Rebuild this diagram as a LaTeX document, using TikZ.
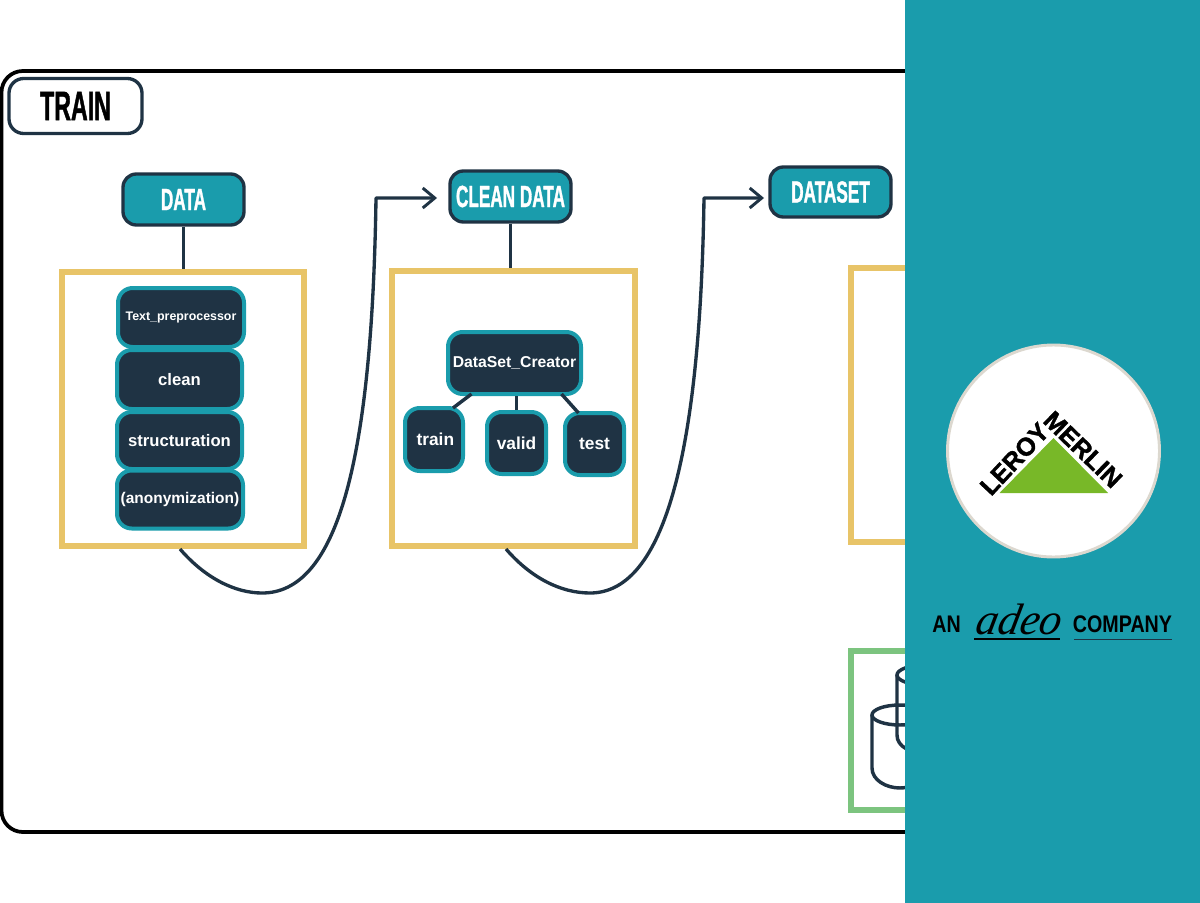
\documentclass[tikz,border=0pt]{standalone}
\usepackage{fontspec}
\setmainfont{Liberation Sans}
\newfontfamily\bebas[FakeStretch=0.56,FakeBold=1.0]{Liberation Sans}
\newfontfamily\narrowf[FakeStretch=0.82]{Liberation Sans}
\newfontfamily\heavyf[FakeBold=1.5]{Liberation Sans}
\newfontfamily\adeof[FakeSlant=0.2]{Liberation Serif}
\usetikzlibrary{arrows.meta,calc}
\definecolor{navy}{HTML}{1F3344}
\definecolor{teal}{HTML}{1A9CAC}
\definecolor{gold}{HTML}{E8C468}
\definecolor{grn}{HTML}{7CC47F}
\definecolor{leaf}{HTML}{78B828}
\definecolor{ring}{HTML}{DCD8CF}
\tikzset{
  px/.style={x=0.75pt,y=-0.75pt},
  header/.style={draw=navy,line width=2.5pt,fill=teal,rounded corners=10pt,inner sep=0pt,text=white,font=\bebas\bfseries\fontsize{23}{25}\selectfont},
  titlebox/.style={draw=navy,line width=2.5pt,fill=white,rounded corners=11pt,inner sep=0pt,text=black,font=\bebas\bfseries\fontsize{31}{33}\selectfont},
  procbox/.style={draw=gold,line width=3.8pt,fill=white,inner sep=0pt},
  storebox/.style={draw=grn,line width=3.8pt,fill=white,inner sep=0pt},
  darkbox/.style={draw=teal,line width=3pt,fill=navy,rounded corners=11pt,inner sep=0pt,text=white,font=\bfseries\fontsize{12.5}{14}\selectfont},
  link/.style={draw=navy,line width=2.6pt},
  flow/.style={draw=navy,line width=2.5pt,line join=round,-{Straight Barb[length=9pt,width=15pt,line width=2.2pt]}},
  cyl/.style={draw=navy,line width=2.6pt},
  logotext/.style={text=black,font=\heavyf\bfseries\fontsize{19}{21}\selectfont,inner sep=0pt},
}
\begin{document}
\begin{tikzpicture}[px]
\useasboundingbox (0,0) rectangle (1200,903);
\fill[white] (0,0) rectangle (1200,903);
% outer frame
\node[draw=black,line width=2.8pt,rounded corners=16pt,minimum width=1000*0.75pt,minimum height=761*0.75pt,inner sep=0pt] (frame) at (501.5,451.5) {};
% title
\node[titlebox,minimum width=133*0.75pt,minimum height=55*0.75pt] (train) at (75.5,106) {TRAIN};
% headers
\node[header,minimum width=121*0.75pt,minimum height=51*0.75pt] (data) at (183.5,199.5) {DATA};
\node[header,minimum width=121*0.75pt,minimum height=51*0.75pt] (cleandata) at (510.5,196.5) {CLEAN DATA};
\node[header,minimum width=121*0.75pt,minimum height=50*0.75pt] (dataset) at (830.5,192) {DATASET};
% yellow boxes
\node[procbox,minimum width=242*0.75pt,minimum height=274*0.75pt] (procA) at (183,409) {};
\node[procbox,minimum width=243*0.75pt,minimum height=275*0.75pt] (procB) at (513.5,408.5) {};
\node[procbox,minimum width=200*0.75pt,minimum height=274*0.75pt] (procC) at (951,405) {};
% green box and cylinders
\node[storebox,minimum width=200*0.75pt,minimum height=159*0.75pt] (store) at (951,730.5) {};
\draw[cyl] (925,675) ellipse (28 and 10);
\draw[cyl] (897,675) -- (897,735) .. controls (897,747) and (911,753) .. (925,753);
\draw[cyl] (900,715) ellipse (28 and 10);
\draw[cyl] (872,715) -- (872,768) .. controls (872,780) and (886,788) .. (900,788) .. controls (914,788) and (928,780) .. (928,768) -- (928,715);
% stack
\node[darkbox,minimum width=126*0.75pt,minimum height=59*0.75pt,font=\bfseries\fontsize{9.3}{11}\selectfont] (tp) at (181,317.5) {Text\_preprocessor};
\node[darkbox,minimum width=125*0.75pt,minimum height=59*0.75pt] (cl) at (179.5,379.5) {clean};
\node[darkbox,minimum width=125*0.75pt,minimum height=57*0.75pt] (st) at (179.5,440.5) {structuration};
\node[darkbox,minimum width=126*0.75pt,minimum height=58*0.75pt,font=\bfseries\fontsize{11.6}{14}\selectfont] (an) at (180,499.5) {\raisebox{-1.5pt}{(anonymization)}};
% dataset creator
\node[darkbox,minimum width=133*0.75pt,minimum height=62*0.75pt,font=\bfseries\fontsize{11.8}{14}\selectfont] (dc) at (514.5,363) {DataSet\_Creator};
\node[darkbox,minimum width=58*0.75pt,minimum height=63*0.75pt,font=\bfseries\fontsize{13}{14}\selectfont] (tr) at (434,439.5) {\raisebox{-1pt}{\hspace{2pt}train}};
\node[darkbox,minimum width=59*0.75pt,minimum height=62*0.75pt,font=\bfseries\fontsize{13}{14}\selectfont] (va) at (516.5,443) {valid};
\node[darkbox,minimum width=59*0.75pt,minimum height=62*0.75pt,font=\bfseries\fontsize{13}{14}\selectfont] (te) at (594.5,444) {test};
% links
\draw[link] (data.south) -- (data.south |- procA.north);
\draw[link] (cleandata.south) -- (cleandata.south |- procB.north);
\draw[link] ($(dc.south)+(-43,-2)$) -- ($(tr.north)+(19,2)$);
\draw[link] (dc.south -| va.north) -- (va.north);
\draw[link] ($(dc.south)+(47,-2)$) -- ($(te.north)+(-16,2)$);
% flows
\coordinate (fa) at (180,549);
\coordinate (fb) at (506,549);
\coordinate (ta) at (437,198);
\coordinate (tb) at (764,198);
\draw[flow] (fa) .. controls (205,578) and (235,593) .. (262,593)
  .. controls (335,593) and (372,470) .. (376,198) -- (ta);
\draw[flow] (fb) .. controls (531,578) and (561,593) .. (590,593)
  .. controls (660,593) and (700,470) .. (704,198) -- (tb);
% right panel
\fill[teal] (905,0) rectangle (1200,903);
\node[circle,draw=ring,line width=2.2pt,fill=white,minimum size=212*0.75pt,inner sep=0pt] (badge) at (1053.5,451) {};
\fill[leaf] (1053.5,438) -- (1108,493) -- (999.5,493) -- cycle;
\node[logotext,rotate=47] (leroy) at (1014.5,459) {LEROY};
\node[logotext,rotate=-44] (merlin) at (1083,449.5) {MERLIN};
\node[text=black,font=\narrowf\bfseries\fontsize{18}{20}\selectfont,inner sep=0pt] (an2) at (946.5,624) {AN};
\node[text=black,font=\adeof\itshape\fontsize{33}{36}\selectfont,inner sep=0pt] (adeo) at (1017,619) {adeo};
\node[text=black,font=\narrowf\bfseries\fontsize{18}{20}\selectfont,inner sep=0pt] (co) at (1122.5,624) {COMPANY};
\draw[black,line width=2.2pt] (974,639) -- (1060,639);
\draw[navy,line width=0.9pt] (1074,639.5) -- (1172,639.5);
\end{tikzpicture}
\end{document}
